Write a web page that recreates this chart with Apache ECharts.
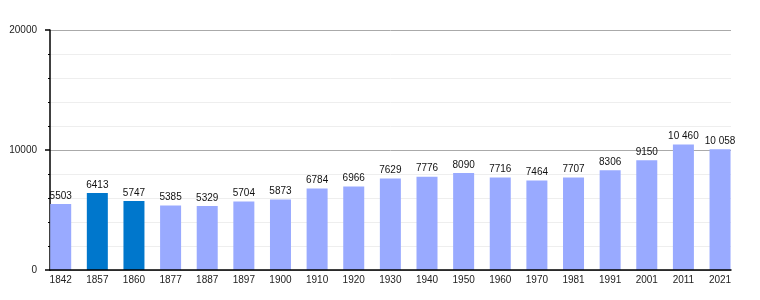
<!DOCTYPE html>
<html><head><meta charset="utf-8">
<script src="https://cdn.jsdelivr.net/npm/echarts@6/dist/echarts.min.js"></script>
<style>html,body{margin:0;padding:0;background:#fff}#c{width:760px;height:300px}</style>
</head><body><div id="c"></div>
<script>
var years = ['1842','1857','1860','1877','1887','1897','1900','1910','1920','1930','1940','1950','1960','1970','1981','1991','2001','2011','2021'];
var population = [5503,6413,5747,5385,5329,5704,5873,6784,6966,7629,7776,8090,7716,7464,7707,8306,9150,10460,10058];
var highlighted = ['1857','1860'];
var yTicks = [0,10000,20000];

var FONT = '"Liberation Sans", Arial, sans-serif';
var chart = echarts.init(document.getElementById('c'), null, {renderer:'canvas'});
function fmt(v){ var s=String(v); return v>=10000 ? s.slice(0,s.length-3)+' '+s.slice(-3) : s; }
var catW = 36.63, firstCenter = 60.7;
var g1Left = firstCenter - catW/2;
chart.setOption({
  animation:false,
  backgroundColor:'#fff',
  grid:[
    {left:50, width:681, top:30, height:240, containLabel:false},
    {left:g1Left, width:catW*years.length, top:30, height:240, containLabel:false}
  ],
  xAxis:[
    {gridIndex:0, type:'category', data:[''], z:5, axisLine:{show:true,lineStyle:{color:'#000',width:1.5}}, axisTick:{show:false}, axisLabel:{show:false}},
    {gridIndex:1, type:'category', data:years, axisLine:{show:false}, axisTick:{show:false},
     axisLabel:{show:true, interval:0, margin:5, color:'#222', fontSize:10, fontFamily:FONT}}
  ],
  yAxis:[
    {gridIndex:0, type:'value', min:yTicks[0], max:yTicks[yTicks.length-1], interval:10000,
     axisLine:{show:true,lineStyle:{color:'#000',width:1.5}},
     axisTick:{show:true,length:5,lineStyle:{color:'#000',width:1.5}},
     minorTick:{show:true,splitNumber:5,length:2,lineStyle:{color:'#000',width:1}},
     splitLine:{show:true,lineStyle:{color:'#aaa',width:1}},
     minorSplitLine:{show:true,lineStyle:{color:'#eee',width:1}},
     axisLabel:{margin:13, color:'#222', fontSize:10, fontFamily:FONT, formatter:function(v){return String(v);}}},
    {gridIndex:1, type:'value', min:0, max:20000, show:false, splitLine:{show:false}}
  ],
  series:[{
    type:'bar', xAxisIndex:1, yAxisIndex:1, barWidth:21, z:3,
    data: population.map(function(v,i){
      return {value:v, itemStyle:{color: highlighted.indexOf(years[i])>=0 ? '#0077cc' : '#99aaff'}};
    }),
    label:{show:true, position:'top', distance:3, color:'#111', fontSize:10, fontFamily:FONT,
      formatter:function(p){return fmt(p.value);}}
  }]
});
</script></body></html>
